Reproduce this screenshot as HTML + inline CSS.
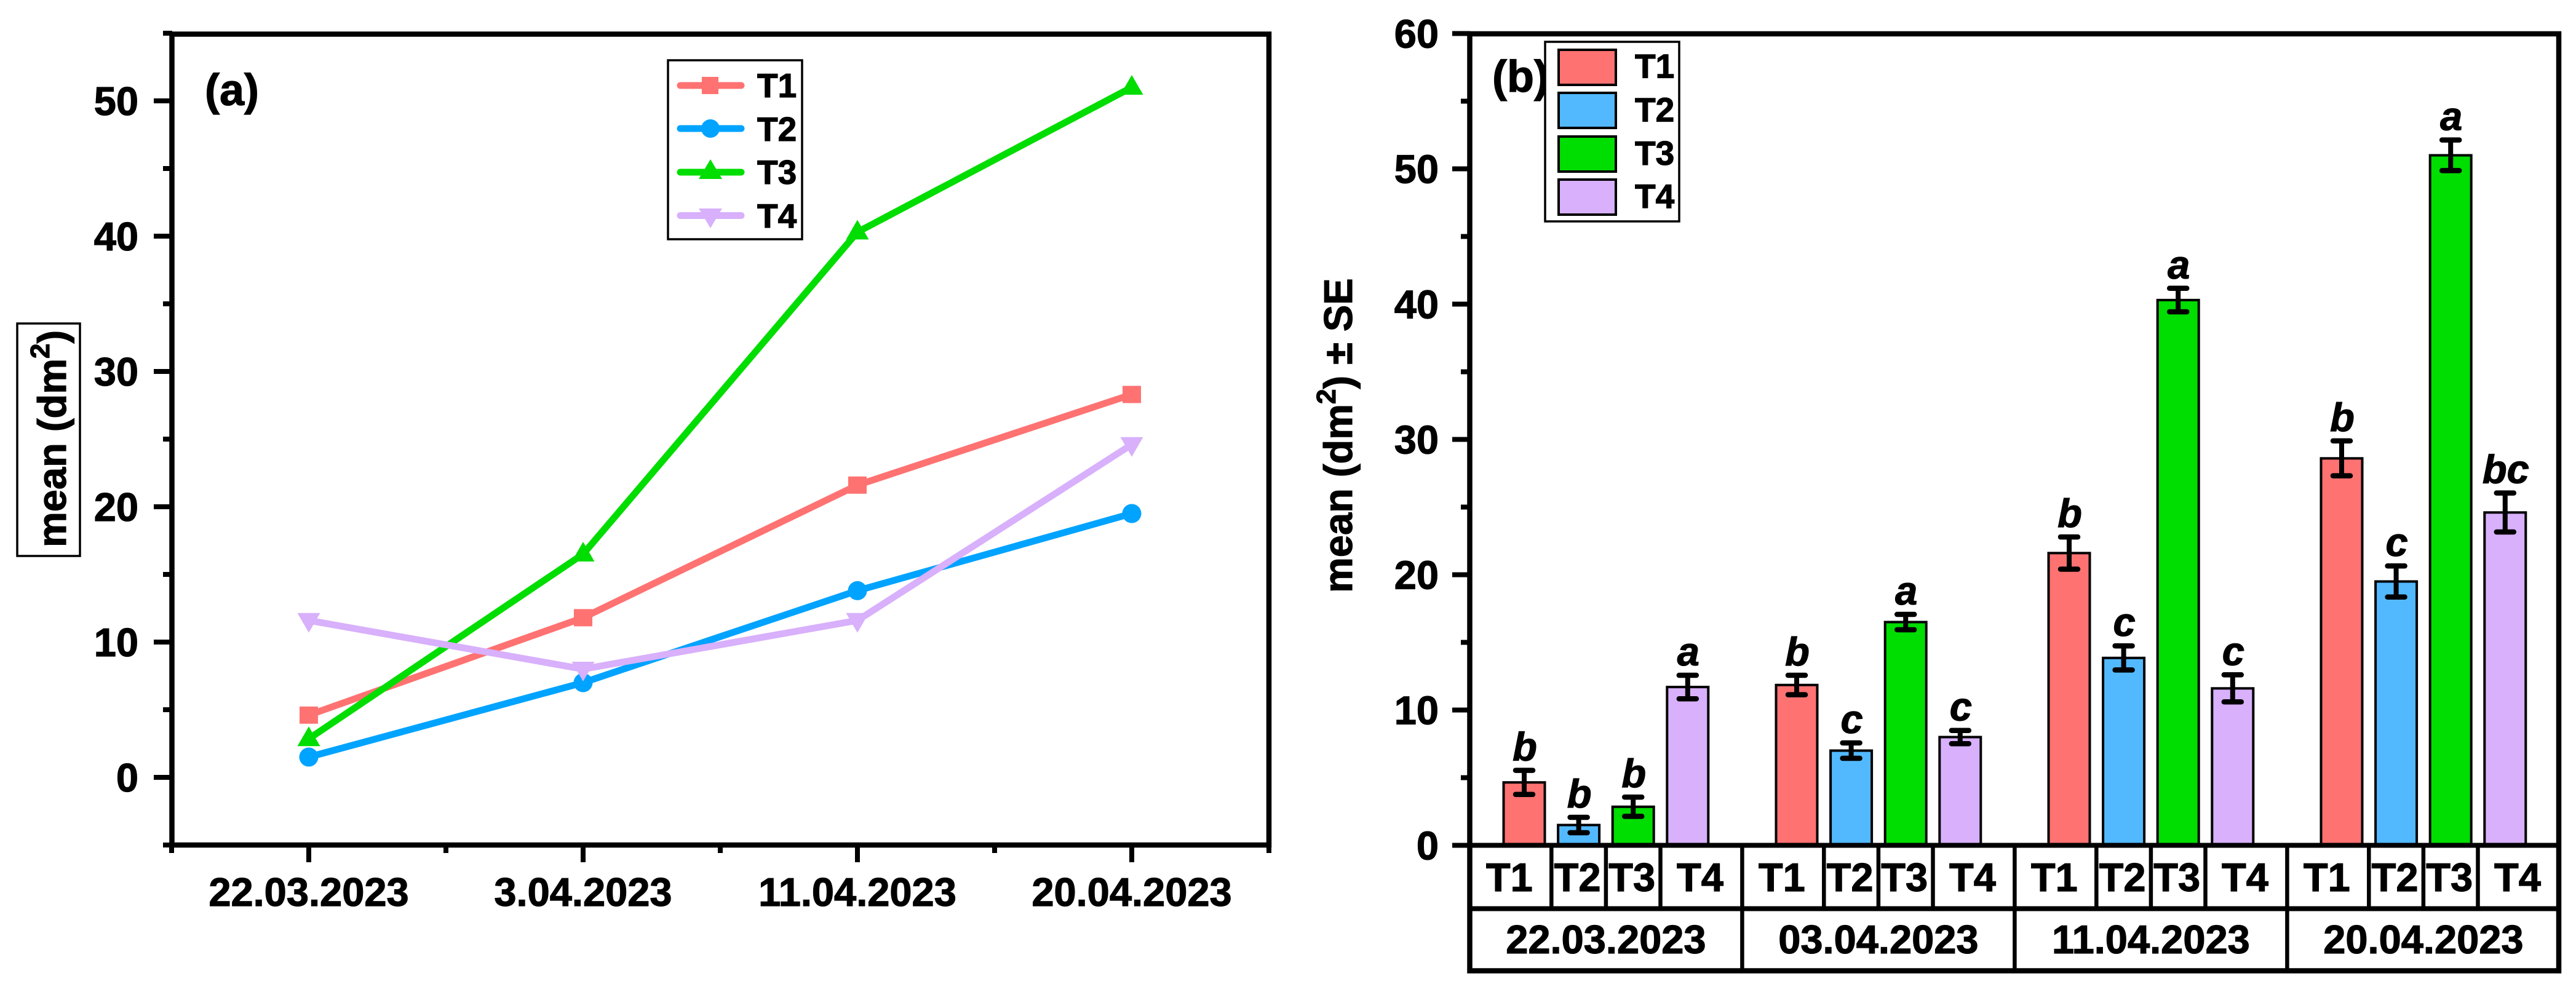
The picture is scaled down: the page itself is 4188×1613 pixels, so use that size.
<!DOCTYPE html>
<html lang="en">
<head>
<meta charset="utf-8">
<title>Mean area line chart and bar chart</title>
<style>
html,body{margin:0;padding:0;background:#fff;}
svg{display:block;}
text{font-family:"Liberation Sans",Arial,sans-serif;font-weight:bold;fill:#000;stroke:#000;stroke-width:1.2px;}
</style>
</head>
<body>
<svg id="figure" xmlns="http://www.w3.org/2000/svg" width="4188" height="1613" viewBox="0 0 4188 1613">
  <rect x="0" y="0" width="4188" height="1613" fill="#ffffff"/>
  <g id="panel-a"></g>
  <g id="panel-b"></g>

  <rect x="28" y="526" width="102" height="378" fill="#fff" stroke="#000" stroke-width="3.5"/>
  <text transform="translate(107,890) rotate(-90)" font-size="65">mean (dm<tspan dy="-27" font-size="44">2</tspan><tspan dy="27">)</tspan></text>
  <text x="333" y="171" font-size="72">(a)</text>

  <text transform="translate(2198,964) rotate(-90)" font-size="65">mean (dm<tspan dy="-27" font-size="44">2</tspan><tspan dy="27">) ± SE</tspan></text>
  <text x="2426" y="149" font-size="72">(b)</text>

  <g>
    <rect x="1086" y="98" width="218" height="291" fill="#fff" stroke="#000" stroke-width="3.5"/>
    <g>
      <line x1="1106" y1="139" x2="1205" y2="139" stroke="#FF7272" stroke-width="11" stroke-linecap="round"/>
      <rect x="1141" y="125" width="27" height="28" fill="#FF7272"/>
      <text x="1231" y="158" font-size="55">T1</text>
    </g>
    <g>
      <line x1="1106" y1="209" x2="1205" y2="209" stroke="#00A3FF" stroke-width="11" stroke-linecap="round"/>
      <circle cx="1155" cy="209" r="15" fill="#00A3FF"/>
      <text x="1231" y="229" font-size="55">T2</text>
    </g>
    <g>
      <line x1="1106" y1="280" x2="1205" y2="280" stroke="#00DD00" stroke-width="11" stroke-linecap="round"/>
      <polygon points="1155,259 1174,291 1136,291" fill="#00DD00"/>
      <text x="1231" y="299" font-size="55">T3</text>
    </g>
    <g>
      <line x1="1106" y1="350.5" x2="1205" y2="350.5" stroke="#D8B0FB" stroke-width="11" stroke-linecap="round"/>
      <polygon points="1136,339 1174,339 1155,371" fill="#D8B0FB"/>
      <text x="1231" y="370" font-size="55">T4</text>
    </g>
  </g>

  <g>
    <rect x="2512" y="68" width="218" height="292" fill="#fff" stroke="#000" stroke-width="3.5"/>
    <g>
      <rect x="2534" y="81" width="93" height="57" fill="#FF7272" stroke="#000" stroke-width="4"/>
      <text x="2658" y="126.5" font-size="55">T1</text>
    </g>
    <g>
      <rect x="2534" y="151" width="93" height="57" fill="#52B9FF" stroke="#000" stroke-width="4"/>
      <text x="2658" y="197.5" font-size="55">T2</text>
    </g>
    <g>
      <rect x="2534" y="222" width="93" height="57" fill="#00DD00" stroke="#000" stroke-width="4"/>
      <text x="2658" y="268" font-size="55">T3</text>
    </g>
    <g>
      <rect x="2534" y="292" width="93" height="57" fill="#D8B0FB" stroke="#000" stroke-width="4"/>
      <text x="2658" y="338" font-size="55">T4</text>
    </g>
  </g>
</svg>

<script>
// ---- Panel (a) data ----
const lineDates = ["22.03.2023", "3.04.2023", "11.04.2023", "20.04.2023"];
const lineT1 = [4.6, 11.8, 21.6, 28.3];
const lineT2 = [1.5, 7.0, 13.8, 19.5];
const lineT3 = [2.85, 16.5, 40.3, 51.0];
const lineT4 = [11.6, 8.0, 11.6, 24.6];
const lineYMajor = [0, 10, 20, 30, 40, 50];
const lineYMinor = [-5, 5, 15, 25, 35, 45, 55];

// ---- Panel (b) data ----
const barDates = ["22.03.2023", "03.04.2023", "11.04.2023", "20.04.2023"];
const barTreatments = ["T1", "T2", "T3", "T4"];
const barT1 = [4.65, 11.85, 21.6, 28.6];
const barT2 = [1.5, 7.0, 13.85, 19.5];
const barT3 = [2.85, 16.5, 40.3, 51.0];
const barT4 = [11.7, 8.0, 11.6, 24.6];
const errT1 = [0.89, 0.72, 1.19, 1.29];
const errT2 = [0.57, 0.57, 0.89, 1.15];
const errT3 = [0.71, 0.57, 0.87, 1.13];
const errT4 = [0.87, 0.49, 1.0, 1.44];
const lettersT1 = ["b", "b", "b", "b"];
const lettersT2 = ["b", "c", "c", "c"];
const lettersT3 = ["b", "a", "a", "a"];
const lettersT4 = ["a", "c", "c", "bc"];
const barYMajor = [0, 10, 20, 30, 40, 50, 60];
const barYMinor = [5, 15, 25, 35, 45, 55];

const NS = "http://www.w3.org/2000/svg";
const panelA = document.getElementById("panel-a");
const panelB = document.getElementById("panel-b");

function make(parent, tag, attrs, content) {
  const node = document.createElementNS(NS, tag);
  for (const key in attrs) node.setAttribute(key, attrs[key]);
  if (content !== undefined) node.textContent = content;
  parent.appendChild(node);
  return node;
}

// Axis functions
function lineX(i) { return 502 + 446 * i; }
function lineY(v) { return 1264 - 22 * v; }
function barSlot(g, i) { return 2478 + 88.6 * (5 * g + i); }
function barIdx(k) { return 2478 + 88.6 * k; }
function barY(v) { return 1374.5 - 22 * v; }

const BLACK = "#000";

/* ---------- PANEL A ---------- */
const lineSeries = [
  { key: "t1", values: lineT1, color: "#FF7272", shape: "square" },
  { key: "t2", values: lineT2, color: "#00A3FF", shape: "circle" },
  { key: "t3", values: lineT3, color: "#00DD00", shape: "up" },
  { key: "t4", values: lineT4, color: "#D8B0FB", shape: "down" }
];

lineSeries.forEach(function (s) {
  const pts = s.values.map(function (v, i) { return lineX(i) + "," + lineY(v); }).join(" ");
  const path = make(panelA, "polyline", { points: pts, fill: "none", stroke: s.color, "stroke-width": 11, "stroke-linejoin": "round" });
  
  
  s.values.forEach(function (v, i) {
    const cx = lineX(i), cy = lineY(v);
    let m;
    if (s.shape === "square") {
      m = make(panelA, "rect", { x: cx - 15, y: cy - 14, width: 30, height: 28, fill: s.color });
    } else if (s.shape === "circle") {
      m = make(panelA, "circle", { cx: cx, cy: cy, r: 15.5, fill: s.color });
    } else if (s.shape === "up") {
      m = make(panelA, "polygon", { points: cx + "," + (cy - 20) + " " + (cx + 18.5) + "," + (cy + 12) + " " + (cx - 18.5) + "," + (cy + 12), fill: s.color });
    } else {
      m = make(panelA, "polygon", { points: (cx - 18.5) + "," + (cy - 12) + " " + (cx + 18.5) + "," + (cy - 12) + " " + cx + "," + (cy + 20), fill: s.color });
    }
    
    
  });
});

// Panel A frame
const frameA = make(panelA, "rect", { x: 279.5, y: 55.5, width: 1783.5, height: 1318.5, fill: "none", stroke: BLACK, "stroke-width": 8.5 });



lineYMajor.forEach(function (v) {
  const t = make(panelA, "line", { x1: 250, x2: 280, y1: lineY(v), y2: lineY(v), stroke: BLACK, "stroke-width": 8 });
  
  
  const l = make(panelA, "text", { x: 225, y: lineY(v) + 23, "text-anchor": "end", "font-size": 65 }, String(v));
  
  
});
lineYMinor.forEach(function (v) {
  const t = make(panelA, "line", { x1: 265, x2: 280, y1: lineY(v), y2: lineY(v), stroke: BLACK, "stroke-width": 8 });
  
  
});
lineDates.forEach(function (d, i) {
  const t = make(panelA, "line", { x1: lineX(i), x2: lineX(i), y1: 1374, y2: 1402, stroke: BLACK, "stroke-width": 8 });
  
  
  const l = make(panelA, "text", { x: lineX(i), y: 1473, "text-anchor": "middle", "font-size": 65 }, d);
  
  
});
for (let i = 0; i <= lineDates.length; i++) {
  const x = lineX(i - 0.5);
  const t = make(panelA, "line", { x1: x, x2: x, y1: 1374, y2: 1387, stroke: BLACK, "stroke-width": 8 });
  
  
}

/* ---------- PANEL B ---------- */
const barSeries = [
  { key: "t1", values: barT1, errs: errT1, letters: lettersT1, color: "#FF7272" },
  { key: "t2", values: barT2, errs: errT2, letters: lettersT2, color: "#52B9FF" },
  { key: "t3", values: barT3, errs: errT3, letters: lettersT3, color: "#00DD00" },
  { key: "t4", values: barT4, errs: errT4, letters: lettersT4, color: "#D8B0FB" }
];

barSeries.forEach(function (s, i) {
  s.values.forEach(function (v, g) {
    const cx = barSlot(g, i);
    const top = barY(v);
    const r = make(panelB, "rect", { x: cx - 33.5, y: top, width: 67, height: barY(0) - top, fill: s.color, stroke: BLACK, "stroke-width": 4 });
    
    
  });
});

barSeries.forEach(function (s, i) {
  s.values.forEach(function (v, g) {
    const cx = barSlot(g, i);
    const hi = barY(v + s.errs[g]);
    const lo = barY(v - s.errs[g]);
    const stem = make(panelB, "line", { x1: cx, x2: cx, y1: hi, y2: lo, stroke: BLACK, "stroke-width": 8 });
    
    
    const capHi = make(panelB, "line", { x1: cx - 14, x2: cx + 14, y1: hi, y2: hi, stroke: BLACK, "stroke-width": 8.5, "stroke-linecap": "round" });
    
    
    const capLo = make(panelB, "line", { x1: cx - 14, x2: cx + 14, y1: lo, y2: lo, stroke: BLACK, "stroke-width": 8.5, "stroke-linecap": "round" });
    
    
    const tag = make(panelB, "text", { x: cx + 1, y: hi - 16, "text-anchor": "middle", "font-size": 65, "font-style": "italic" }, s.letters[g]);
    
    
  });
});

// Panel B frame
const frameB = make(panelB, "rect", { x: 2389.5, y: 55, width: 1770.5, height: 1523.5, fill: "none", stroke: BLACK, "stroke-width": 8.5 });



const axisB = make(panelB, "line", { x1: 2361, x2: 4164, y1: barY(0), y2: barY(0), stroke: BLACK, "stroke-width": 8 });



const rowRule = make(panelB, "line", { x1: 2386, x2: 4164, y1: 1477.5, y2: 1477.5, stroke: BLACK, "stroke-width": 8 });



barYMajor.forEach(function (v) {
  const t = make(panelB, "line", { x1: 2361, x2: 2390, y1: barY(v), y2: barY(v), stroke: BLACK, "stroke-width": 8 });
  
  
  const l = make(panelB, "text", { x: 2339, y: barY(v) + 23, "text-anchor": "end", "font-size": 65 }, String(v));
  
  
});
barYMinor.forEach(function (v) {
  const t = make(panelB, "line", { x1: 2375, x2: 2390, y1: barY(v), y2: barY(v), stroke: BLACK, "stroke-width": 8 });
  
  
});

barDates.forEach(function (d, g) {
  const gStart = 5 * g - 1;
  const gEnd = 5 * g + 4;
  const cellEdges = [gStart, 5 * g + 0.5, 5 * g + 1.5, 5 * g + 2.5, gEnd];
  barTreatments.forEach(function (name, i) {
    const left = barIdx(cellEdges[i]);
    const right = barIdx(cellEdges[i + 1]);
    const label = make(panelB, "text", { x: (left + right) / 2 - 2, y: 1449, "text-anchor": "middle", "font-size": 65 }, name);
    
    
    if (i < 3) {
      const sep = make(panelB, "line", { x1: right, x2: right, y1: 1374, y2: 1478, stroke: BLACK, "stroke-width": 6.5 });
      
      
    }
  });
  const dateLabel = make(panelB, "text", { x: (barIdx(gStart) + barIdx(gEnd)) / 2, y: 1550, "text-anchor": "middle", "font-size": 65 }, d);
  
  
  if (g < barDates.length - 1) {
    const sep = make(panelB, "line", { x1: barIdx(gEnd), x2: barIdx(gEnd), y1: 1374, y2: 1578, stroke: BLACK, "stroke-width": 6.5 });
    
    
  }
});
</script>
</body>
</html>
